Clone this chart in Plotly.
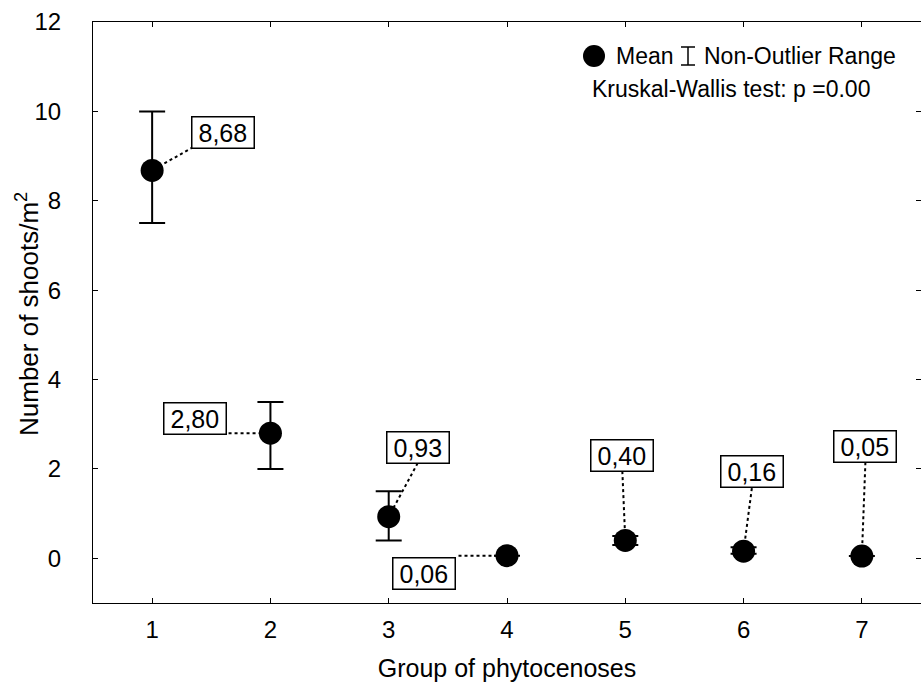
import plotly.graph_objects as go

groups = [1, 2, 3, 4, 5, 6, 7]
means = [8.68, 2.80, 0.93, 0.06, 0.40, 0.16, 0.05]
range_hi = [10.0, 3.5, 1.5, 0.06, 0.50, 0.25, 0.05]
range_lo = [7.5, 2.0, 0.4, 0.06, 0.30, 0.10, 0.05]
labels = ["8,68", "2,80", "0,93", "0,06", "0,40", "0,16", "0,05"]

# label box centres and connector start points (data coordinates)
label_pos = [(1.60, 9.53), (1.36, 3.12), (3.25, 2.47), (3.30, -0.34),
             (4.975, 2.29), (6.075, 1.95), (7.03, 2.51)]
conn_start = [(1.346, 9.20), (1.646, 2.80), (3.245, 2.13), (3.59, 0.06),
              (4.975, 1.95), (6.07, 1.57), (7.03, 2.15)]

FONT = "Liberation Sans, Arial, sans-serif"
L, R, T, B = 93, 0, 22, 79
W, H = 921, 682
PW, PH = W - L - R, H - T - B


def px(x):
    return (x - L) / PW


def py(y):
    return (H - B - y) / PH


fig = go.Figure()

# dotted connectors
for (sx, sy), g, m in zip(conn_start, groups, means):
    fig.add_trace(go.Scatter(x=[sx, g], y=[sy, m], mode="lines",
                             line=dict(color="black", width=2, dash="dot"),
                             showlegend=False, hoverinfo="skip"))

err_plus = [h - m for h, m in zip(range_hi, means)]
err_minus = [m - l for m, l in zip(means, range_lo)]

fig.add_trace(go.Scatter(
    x=groups, y=means, mode="markers",
    marker=dict(color="black", size=23),
    error_y=dict(type="data", symmetric=False, array=err_plus, arrayminus=err_minus,
                 color="black", thickness=2, width=13),
    showlegend=False))

for (lx, ly), t in zip(label_pos, labels):
    fig.add_annotation(x=lx, y=ly, xref="x", yref="y", text="\u2009" + t + "\u2009",
                       showarrow=False,
                       font=dict(family=FONT, size=25, color="black"),
                       bgcolor="white", bordercolor="black", borderwidth=1.5,
                       borderpad=1)

# legend: filled circle, I-beam symbol, texts
LY1, LY2 = 56, 89
fig.add_shape(type="circle", xref="paper", yref="paper",
              x0=px(583), x1=px(605), y0=py(LY1 + 11), y1=py(LY1 - 11),
              fillcolor="black", line=dict(color="black", width=0))
fig.add_annotation(xref="paper", yref="paper", x=px(614), y=py(LY1), xanchor="left", yanchor="middle",
                   text="Mean", showarrow=False, font=dict(family=FONT, size=23, color="black"))
IX = 688
fig.add_shape(type="line", xref="paper", yref="paper", x0=px(IX), x1=px(IX), y0=py(LY1 - 9), y1=py(LY1 + 9),
              line=dict(color="black", width=1.5))
fig.add_shape(type="line", xref="paper", yref="paper", x0=px(IX - 7), x1=px(IX + 7), y0=py(LY1 - 9), y1=py(LY1 - 9),
              line=dict(color="black", width=1.5))
fig.add_shape(type="line", xref="paper", yref="paper", x0=px(IX - 7), x1=px(IX + 7), y0=py(LY1 + 9), y1=py(LY1 + 9),
              line=dict(color="black", width=1.5))
fig.add_annotation(xref="paper", yref="paper", x=px(702), y=py(LY1), xanchor="left", yanchor="middle",
                   text="Non-Outlier Range", showarrow=False,
                   font=dict(family=FONT, size=23, color="black"))
fig.add_annotation(xref="paper", yref="paper", x=px(590), y=py(LY2), xanchor="left", yanchor="middle",
                   text="Kruskal-Wallis test: p =0.00",
                   showarrow=False, font=dict(family=FONT, size=23, color="black"))

# y-axis title as an annotation for exact placement
fig.add_annotation(xref="paper", yref="paper", x=px(27), y=py(314), xanchor="center", yanchor="middle",
                   text="Number of shoots/m<sup>2</sup>", textangle=-90, showarrow=False,
                   font=dict(family=FONT, size=26, color="black"))

fig.update_layout(
    width=W, height=H,
    margin=dict(l=L, r=R, t=T, b=B),
    plot_bgcolor="white", paper_bgcolor="white",
    font=dict(family=FONT, color="black"),
    xaxis=dict(range=[0.5, 7.5], tickvals=groups, ticktext=[str(g) for g in groups],
               showline=True, linecolor="black", linewidth=1, mirror="ticks",
               ticks="inside", ticklen=5, tickcolor="black", showgrid=False, zeroline=False,
               tickfont=dict(size=24), ticklabelstandoff=5,
               title=dict(text="Group of phytocenoses", font=dict(size=25), standoff=18)),
    yaxis=dict(range=[-1, 12], tickvals=[0, 2, 4, 6, 8, 10, 12],
               showline=True, linecolor="black", linewidth=1, mirror="ticks",
               ticks="inside", ticklen=5, tickcolor="black", showgrid=False, zeroline=False,
               tickfont=dict(size=24), ticklabelstandoff=26),
)

fig.write_html("out.html")
